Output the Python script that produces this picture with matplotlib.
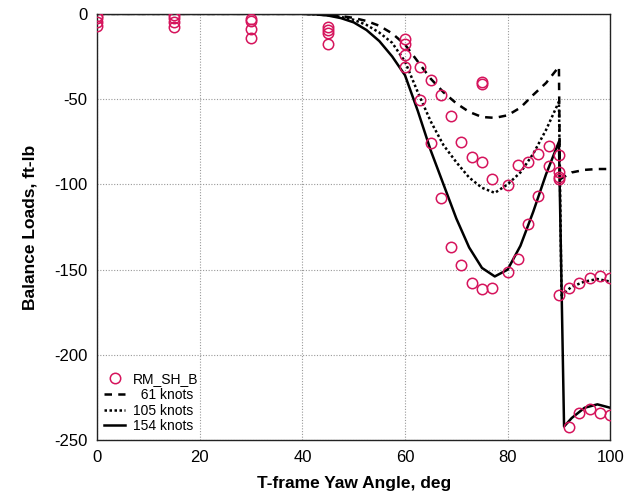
import matplotlib.pyplot as plt
import numpy as np

plt.rcParams['font.family'] = ['Liberation Sans', 'DejaVu Sans']
plt.rcParams['axes.unicode_minus'] = False

# measured balance loads (RM_SH_B)
yaw_pts = [0, 0, 0, 0,
           15, 15, 15, 15,
           30, 30, 30, 30,
           45, 45, 45, 45,
           60, 60, 60, 60,
           63, 63, 65, 65, 67, 67, 69, 69, 71, 71, 73, 73,
           75, 75, 75, 75, 77, 77, 80, 80, 82, 82, 84, 84,
           86, 86, 88, 88, 90, 90, 90, 90, 90,
           92, 92, 94, 94, 96, 96, 98, 98, 100, 100]
load_pts = [-1, -2.5, -4.5, -7,
            -0.5, -2.5, -5, -8,
            -3, -4, -9, -14,
            -7.5, -9.5, -11, -17.5,
            -15, -17.5, -24, -31,
            -31, -50.5, -39, -76, -47.5, -108, -60, -137, -75, -147.5, -84, -158,
            -40, -41, -87, -161.5, -97, -160.5, -100.5, -151.5, -88.5, -143.5, -87, -123,
            -82, -107, -77.5, -89.5, -83, -92.5, -95.5, -97, -165,
            -161, -242, -158, -234, -155, -232, -154, -234, -155, -235]

# model curves
yaw_61 = [0, 40, 42.5, 45, 47.5, 50, 52.5, 55, 57.5, 60, 62.5, 65, 67.5, 70, 72.5, 75,
          77.5, 80, 82.5, 85, 87.5, 90, 90.2, 92.5, 95, 97.5, 100]
load_61 = [0, 0, -0.2, -0.6, -1.3, -2.4, -4.2, -7, -11.5, -18, -28, -38, -46, -52.5, -57.5, -60.5,
           -61, -59.5, -55, -47.5, -40.5, -31, -97, -93, -91.5, -91, -91]

yaw_105 = [0, 40, 42.5, 45, 47.5, 50, 52.5, 55, 57.5, 60, 62.5, 65, 67.5, 70, 72.5, 75,
           77.5, 80, 82.5, 85, 87.5, 90, 90.5, 92.5, 95, 97.5, 100]
load_105 = [0, 0, -0.3, -0.8, -1.8, -3.5, -6.5, -11, -17, -28, -46, -63, -77, -87, -96, -102,
            -105, -100, -93, -82, -68, -51.5, -165, -160, -157, -155.5, -157]

yaw_154 = [0, 40, 42.5, 45, 47.5, 50, 52.5, 55, 57.5, 60, 62.5, 65, 67.5, 70, 72.5, 75,
           77.5, 80, 82.5, 85, 87.5, 90, 91, 92.5, 95, 97.5, 100]
load_154 = [0, 0, -0.3, -1, -2.5, -5, -9.5, -16, -25, -36, -57, -80, -100, -120, -137, -149,
            -154, -150, -136, -116, -94, -75, -242, -237, -231, -229, -231]

fig = plt.figure(figsize=(6.35, 4.94), dpi=100)
ax = fig.add_axes([0.153, 0.109, 0.808, 0.863])

ax.plot(yaw_pts, load_pts, 'o', mfc='none', mec='#d6145c', ms=7.5, mew=1.1,
        label='RM_SH_B', zorder=3)
ax.plot(yaw_61, load_61, color='black', lw=1.8, ls=(0, (3, 2.5)), label='  61 knots')
ax.plot(yaw_105, load_105, color='black', lw=1.8, ls=(0, (1, 1)), label='105 knots')
ax.plot(yaw_154, load_154, color='black', lw=1.8, label='154 knots')

ax.set_xlim(0, 100)
ax.set_ylim(-250, 0)
ax.set_xticks(np.arange(0, 101, 20))
ax.set_yticks(np.arange(-250, 1, 50))
ax.tick_params(length=0, labelsize=12, pad=7)
ax.grid(True, color='#999999', ls=(0, (1, 1.5)), lw=0.8)
for s in ax.spines.values():
    s.set_color('#222222')
    s.set_linewidth(1.0)

ax.set_xlabel('T-frame Yaw Angle, deg', fontsize=12.5, fontweight='bold', labelpad=8)
ax.set_ylabel('Balance Loads, ft-lb', fontsize=12.5, fontweight='bold', labelpad=12)

ax.legend(loc='lower left', bbox_to_anchor=(0.0, 0.0), frameon=False, fontsize=10,
          handlelength=1.5, handletextpad=0.6, labelspacing=0.12,
          borderaxespad=0.2, borderpad=0.3)

fig.savefig('out.png', dpi=100)
